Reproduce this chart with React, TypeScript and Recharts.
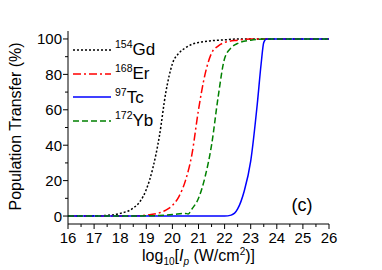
import React from 'react';
import { LineChart, Line, XAxis, YAxis, Legend } from 'recharts';

// ---- data ----
const gdX = [16, 17, 17.5, 18, 18.5, 18.75, 19, 19.25, 19.5, 19.75, 20, 20.25, 20.5, 20.75, 21, 21.5, 22, 22.5, 26];
const gdY = [0, 0.1, 0.4, 1.5, 4.5, 8, 15, 27, 45, 70, 86, 92, 95, 97, 98, 99, 99.5, 100, 100];

const erX = [16, 18.5, 19, 19.5, 19.75, 20, 20.25, 20.5, 20.75, 21, 21.25, 21.5, 21.75, 22, 22.5, 23, 26];
const erY = [0, 0.1, 0.5, 1.8, 3.3, 6, 11, 20, 35, 60, 80, 92, 96, 98, 99.3, 100, 100];

const tcX = [16, 22, 22.25, 22.5, 22.75, 23, 23.25, 23.4, 23.5, 23.6, 26];
const tcY = [0, 0, 0.5, 4, 14, 31, 63, 86, 98, 100, 100];

const ybX = [16, 19, 19.5, 20, 20.5, 20.6, 20.75, 21, 21.25, 21.5, 21.75, 22, 22.25, 22.5, 23, 23.5, 26];
const ybY = [0, 0.1, 0.3, 0.8, 1.5, 1.2, 4, 10, 22, 40, 67, 89, 95, 97.5, 99.3, 100, 100];

const seriesNames = ['Gd', 'Er', 'Tc', 'Yb'];
const seriesMass = ['154', '168', '97', '172'];

const xMajorTicks = [16, 17, 18, 19, 20, 21, 22, 23, 24, 25, 26];
const xAllTicks = [16, 16.5, 17, 17.5, 18, 18.5, 19, 19.5, 20, 20.5, 21, 21.5, 22, 22.5, 23, 23.5, 24, 24.5, 25, 25.5, 26];
const yAllTicks = [0, 10, 20, 30, 40, 50, 60, 70, 80, 90, 100];

const toRows = (xs: number[], ys: number[]) => xs.map((x, i) => ({ x, y: ys[i] }));

const styles = [
  { color: '#000000', dash: '2 2', data: toRows(gdX, gdY) },
  { color: '#ff0000', dash: '8 3 2 3', data: toRows(erX, erY) },
  { color: '#0000ff', dash: undefined as string | undefined, data: toRows(tcX, tcY) },
  { color: '#008000', dash: '6 3', data: toRows(ybX, ybY) },
];

const FONT = '"Liberation Sans", Arial, sans-serif';

const BottomTick = (props: any) => {
  const { x, y, payload } = props;
  const v = payload.value;
  const major = Number.isInteger(v);
  return (
    <g>
      <line x1={x} y1={y} x2={x} y2={y + (major ? 5 : 3)} stroke="#000" strokeWidth={1} />
      {major && xMajorTicks.includes(v) && (
        <text x={x} y={y + 19} textAnchor="middle" fontSize={15} fontFamily={FONT} fill="#000">
          {v}
        </text>
      )}
    </g>
  );
};

const TopTick = (props: any) => {
  const { x, y } = props;
  return <line x1={x} y1={y} x2={x} y2={y + 4} stroke="#000" strokeWidth={1} />;
};

const LeftTick = (props: any) => {
  const { x, y, payload } = props;
  const v = payload.value;
  const major = v % 20 === 0;
  return (
    <g>
      <line x1={x} y1={y} x2={x - (major ? 5 : 3)} y2={y} stroke="#000" strokeWidth={1} />
      {major && (
        <text x={x - 6} y={y + 5.5} textAnchor="end" fontSize={15} fontFamily={FONT} fill="#000">
          {v}
        </text>
      )}
    </g>
  );
};

const RightTick = (props: any) => {
  const { x, y, payload } = props;
  const major = payload.value % 20 === 0;
  return <line x1={x} y1={y} x2={x - (major ? 5 : 3)} y2={y} stroke="#000" strokeWidth={1} />;
};

const XTitle = (props: any) => {
  const vb = props.viewBox || { x: 68, y: 224, width: 261 };
  const cx = vb.x + vb.width / 2;
  return (
    <text x={cx} y={vb.y + 37} textAnchor="middle" fontSize={16} fontFamily={FONT} fill="#000">
      log
      <tspan fontSize={10} dy={4}>10</tspan>
      <tspan dy={-4}>[</tspan>
      <tspan fontStyle="italic">I</tspan>
      <tspan fontSize={10} dy={4} fontStyle="italic">p</tspan>
      <tspan dy={-4}> (W/cm</tspan>
      <tspan fontSize={10} dy={-6}>2</tspan>
      <tspan dy={6}>)]</tspan>
    </text>
  );
};

const YTitle = (props: any) => {
  const vb = props.viewBox || { x: 8, y: 31, height: 193 };
  const cx = 21;
  const cy = vb.y + vb.height / 2 - 1;
  return (
    <text
      x={cx}
      y={cy}
      transform={`rotate(-90, ${cx}, ${cy})`}
      textAnchor="middle"
      fontSize={16}
      fontFamily={FONT}
      fill="#000"
    >
      Population Transfer (%)
    </text>
  );
};

const LegendContent = () => (
  <div style={{ fontFamily: FONT, color: '#000' }}>
    {styles.map((s, i) => (
      <div key={i} style={{ display: 'flex', alignItems: 'center', height: 23.7 }}>
        <svg width={40} height={6} style={{ display: 'block' }}>
          <line x1={1} y1={3} x2={39} y2={3} stroke={s.color} strokeWidth={1.5} strokeDasharray={s.dash} />
        </svg>
        <span style={{ marginLeft: 3, fontSize: 17, lineHeight: '17px', whiteSpace: 'nowrap', position: 'relative', top: 1 }}>
          <span style={{ fontSize: 10.5, position: 'relative', top: -7 }}>{seriesMass[i]}</span>
          {seriesNames[i]}
        </span>
      </div>
    ))}
  </div>
);

export default function App() {
  return (
    <div style={{ position: 'absolute', left: 0, top: 0, width: 382, height: 270, background: '#fff' }}>
      <LineChart width={382} height={270} margin={{ top: 31, right: 53, bottom: 0, left: 8 }}>
        <XAxis
          xAxisId="b"
          dataKey="x"
          type="number"
          domain={[16, 26]}
          ticks={xAllTicks}
          interval={0}
          height={46}
          tickSize={0}
          tickMargin={0}
          tickLine={false}
          tick={<BottomTick />}
          stroke="#000"
          allowDataOverflow
          label={<XTitle />}
        />
        <XAxis
          xAxisId="t"
          orientation="top"
          dataKey="x"
          type="number"
          domain={[16, 26]}
          ticks={xAllTicks}
          interval={0}
          height={0}
          tickSize={0}
          tickMargin={0}
          tickLine={false}
          tick={<TopTick />}
          stroke="#000"
          allowDataOverflow
        />
        <YAxis
          yAxisId="l"
          type="number"
          domain={[-4.5, 104.5]}
          ticks={yAllTicks}
          interval={0}
          width={60}
          tickSize={0}
          tickMargin={0}
          tickLine={false}
          tick={<LeftTick />}
          stroke="#000"
          allowDataOverflow
          label={<YTitle />}
        />
        <YAxis
          yAxisId="r"
          orientation="right"
          type="number"
          domain={[-4.5, 104.5]}
          ticks={yAllTicks}
          interval={0}
          width={0}
          tickSize={0}
          tickMargin={0}
          tickLine={false}
          tick={<RightTick />}
          stroke="#000"
          allowDataOverflow
        />
        {styles.map((s, i) => (
          <Line
            key={seriesNames[i]}
            xAxisId="b"
            yAxisId="l"
            data={s.data}
            dataKey="y"
            name={seriesNames[i]}
            type="monotone"
            stroke={s.color}
            strokeWidth={1.5}
            strokeDasharray={s.dash}
            dot={false}
            activeDot={false}
            isAnimationActive={false}
          />
        ))}
        <text x={302} y={211} textAnchor="middle" fontSize={18} fontFamily={FONT} fill="#000">
          (c)
        </text>
        <Legend
          layout="vertical"
          align="center"
          verticalAlign="middle"
          content={<LegendContent />}
          wrapperStyle={{ position: 'absolute', left: 72, top: 38, width: 110, height: 96 }}
        />
      </LineChart>
    </div>
  );
}
